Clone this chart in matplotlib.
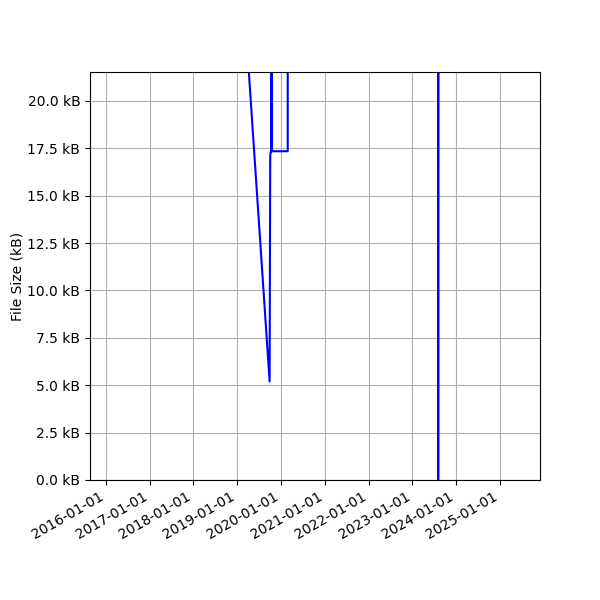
import matplotlib
matplotlib.use('Agg')
import matplotlib.pyplot as plt
import matplotlib.dates as mdates
import matplotlib.ticker as ticker
import pandas as pd

# 文件提交日期和大小 (kB)
dates = ['2019-03-23', '2019-09-28', '2019-10-03', '2019-10-08',
         '2019-10-12', '2019-10-12', '2019-10-13', '2019-10-13', '2019-10-14',
         '2020-02-26', '2020-02-26', '2023-08-04', '2023-08-04', '2023-08-05']
sizes = [23.0, 5.2, 17.1, 17.35,
         17.35, 40.0, 17.35, 40.0, 17.35,
         17.35, 40.0, 40.0, 0.0, 40.0]

dates = pd.to_datetime(dates)

fig, ax = plt.subplots(figsize=(6, 6), dpi=100)
ax.plot(dates, sizes, color='b', linewidth=1.5)

ax.set_ylim(0, 21.53)
ax.set_xlim(pd.Timestamp('2015-08-22'), pd.Timestamp('2025-11-30'))
ax.set_ylabel('File Size (kB)', labelpad=2)
ax.yaxis.set_major_formatter(ticker.FuncFormatter(lambda v, p: '{:.1f} kB'.format(v)))
ax.xaxis.set_major_locator(mdates.YearLocator())
ax.xaxis.set_major_formatter(mdates.DateFormatter('%Y-%m-%d'))
ax.grid(True)
fig.autofmt_xdate()
plt.subplots_adjust(left=0.15, right=0.9, top=0.88, bottom=0.2)

plt.savefig('out.png')
